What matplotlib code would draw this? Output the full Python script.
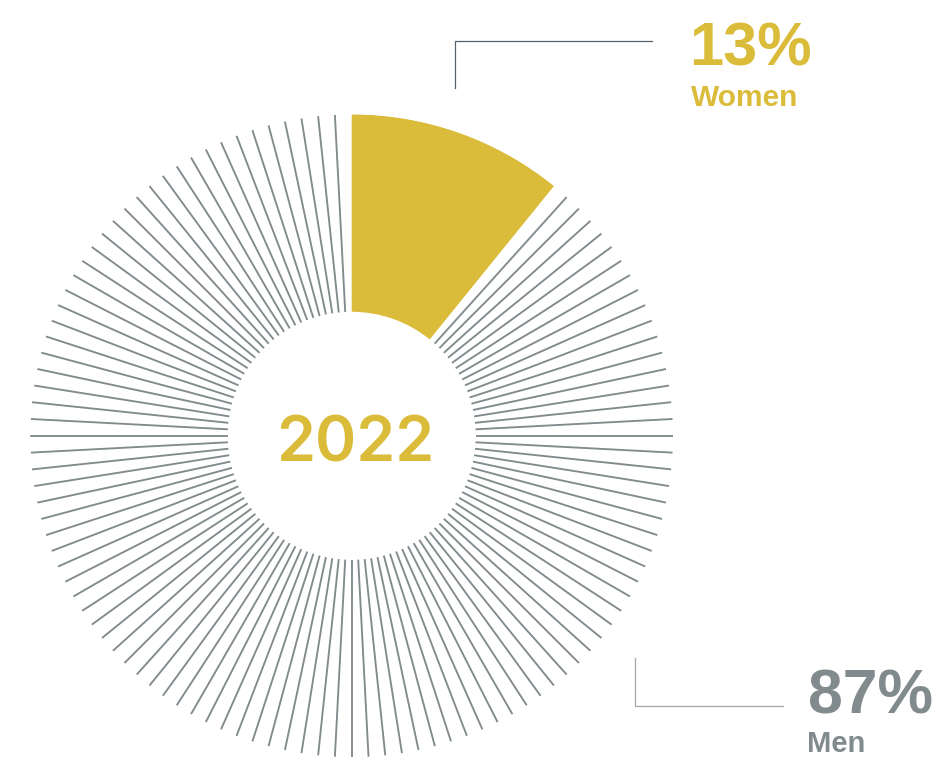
import numpy as np
import matplotlib
matplotlib.use("Agg")
import matplotlib.pyplot as plt

# Share of board seats, 2022
year = "2022"
groups = ["Women", "Men"]
shares = [13, 87]          # percent

# Ring of evenly spaced ticks: the women's share is a solid wedge spanning
# one tick per percentage point, the men's share the remaining radial lines.
n_ticks = 120
gap_ticks = 1

YELLOW = "#dbbc3a"
GREY = "#818a8d"
LEADER_DARK = "#55606a"
LEADER_LIGHT = "#a2a7a9"

W, H = 939, 759
fig = plt.figure(figsize=(W / 100, H / 100), dpi=100)
fig.patch.set_facecolor("white")

# polar axes holding the ring
cx, cy, r_px = 351.7, 435.8, 321.5
ax = fig.add_axes([(cx - r_px) / W, (H - cy - r_px) / H, 2 * r_px / W, 2 * r_px / H],
                  projection="polar")
ax.set_theta_zero_location("N")
ax.set_theta_direction(-1)
r_in, r_out = 124 / 321.5, 1.0
ax.set_ylim(0, r_out)
ax.axis("off")

step = 2 * np.pi / n_ticks
women_ticks = shares[0]
ax.bar(0, r_out - r_in, width=women_ticks * step, bottom=r_in, align="edge",
       color=YELLOW, edgecolor="none", linewidth=0)

men_angles = np.arange(women_ticks + gap_ticks, n_ticks) * step
ax.vlines(men_angles, r_in, r_out, colors=GREY, linewidth=1.35, capstyle="butt")

# overlay for labels, in pixel coordinates
ov = fig.add_axes([0, 0, 1, 1])
ov.set_xlim(0, W)
ov.set_ylim(H, 0)
ov.axis("off")

ov.text(355, 461, year, ha="center", va="baseline", color=YELLOW,
        fontsize=45, family="Inter", fontweight="semibold")

# women label
ov.plot([455, 455, 652], [88, 41, 41], color=LEADER_DARK, linewidth=0.9,
        solid_joinstyle="miter")
ov.text(689, 66, f"{shares[0]}%", ha="left", va="baseline", color=YELLOW,
        fontsize=44, family="Liberation Sans", fontweight="bold")
ov.text(691, 106, groups[0], ha="left", va="baseline", color=YELLOW,
        fontsize=21.5, family="Liberation Sans", fontweight="bold")

# men label
ov.plot([634.5, 634.5, 783], [658, 705.5, 705.5], color=LEADER_LIGHT, linewidth=0.9,
        solid_joinstyle="miter")
ov.text(808, 713, f"{shares[1]}%", ha="left", va="baseline", color=GREY,
        fontsize=45, family="Liberation Sans", fontweight="bold")
ov.text(807, 752, groups[1], ha="left", va="baseline", color=GREY,
        fontsize=21, family="Liberation Sans", fontweight="bold")

fig.savefig("out.png", dpi=100, facecolor="white")
